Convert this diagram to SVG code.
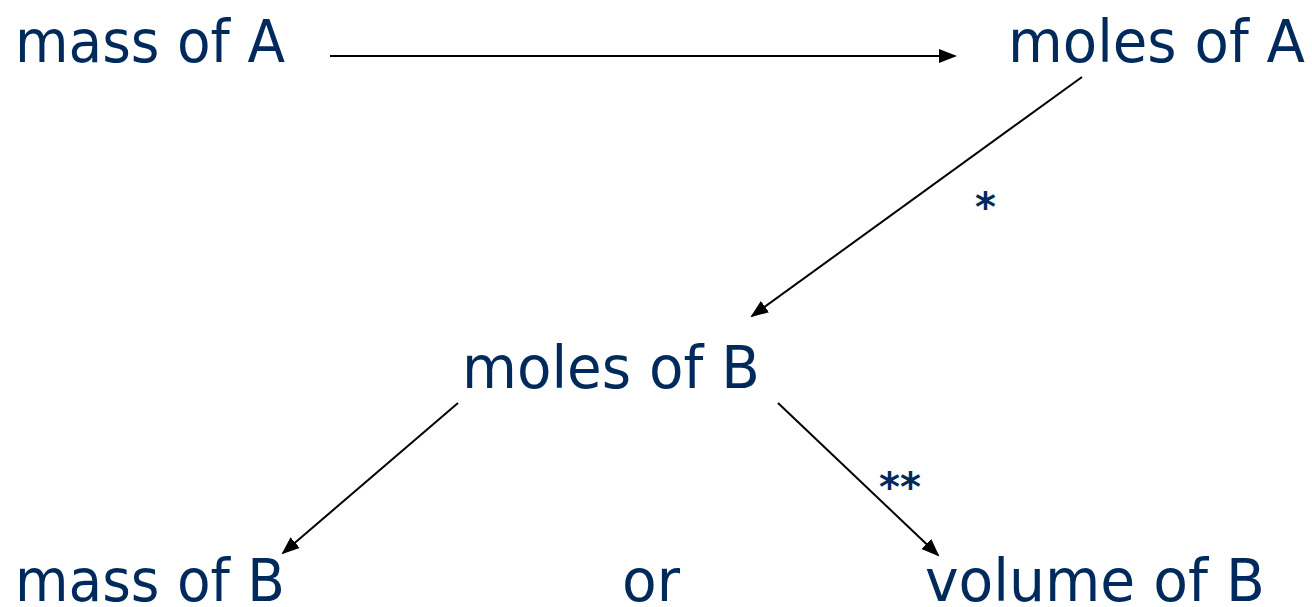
<svg xmlns="http://www.w3.org/2000/svg" width="1312" height="607" viewBox="0 0 1312 607">
<style>
.t{font-family:"DejaVu Sans","Verdana",sans-serif;font-size:58px;fill:#002a5c}
.s{font-family:"DejaVu Sans","Verdana",sans-serif;font-size:40px;font-weight:bold;fill:#002a5c}
.c{stroke:#000;stroke-width:2;fill:none;marker-end:url(#ah)}
</style>
<defs>
<marker id="ah" markerWidth="18" markerHeight="14" refX="16" refY="7" orient="auto" markerUnits="userSpaceOnUse">
<path d="M0,0 L18,7 L0,14 Z" fill="#000"/>
</marker>
</defs>
<rect width="1312" height="607" fill="#fff"/>
<g id="connectors">
<line class="c" x1="330" y1="56" x2="955" y2="56"/>
<line class="c" x1="1082" y1="77" x2="752" y2="316"/>
<line class="c" x1="458" y1="403" x2="283" y2="553"/>
<line class="c" x1="778" y1="403" x2="938" y2="555"/>
</g>
<g id="massA"><text class="t" x="15" y="62" textLength="270" lengthAdjust="spacingAndGlyphs">mass of A</text></g>
<g id="molesA"><text class="t" x="1008" y="62" textLength="297" lengthAdjust="spacingAndGlyphs">moles of A</text></g>
<g id="star1"><text class="s" x="975" y="221">*</text></g>
<g id="molesB"><text class="t" x="462" y="388" textLength="298" lengthAdjust="spacingAndGlyphs">moles of B</text></g>
<g id="star2"><text class="s" x="879" y="501">**</text></g>
<g id="massB"><text class="t" x="15" y="601" textLength="270" lengthAdjust="spacingAndGlyphs">mass of B</text></g>
<g id="or"><text class="t" x="622" y="601" textLength="58" lengthAdjust="spacingAndGlyphs">or</text></g>
<g id="volumeB"><text class="t" x="925" y="601" textLength="340" lengthAdjust="spacingAndGlyphs">volume of B</text></g>
</svg>
